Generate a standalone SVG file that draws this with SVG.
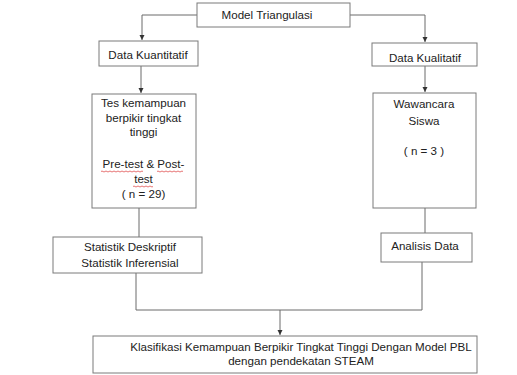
<svg xmlns="http://www.w3.org/2000/svg" width="517" height="375" viewBox="0 0 517 375">
<style>
.box{fill:#fff;stroke:#7a7a7a;stroke-width:1}
.t{font-family:"Liberation Sans",Arial,sans-serif;font-size:11.6px;fill:#222;text-anchor:middle}
.c{fill:none;stroke:#6a6a6a;stroke-width:1}
.sq{fill:none;stroke:#e05050;stroke-width:0.8}
</style>
<defs>
<marker id="ah" markerWidth="6" markerHeight="6" refX="5" refY="3" orient="auto" markerUnits="userSpaceOnUse">
<path d="M0,0.5 L5,3 L0,5.5 Z" fill="#333"/>
</marker>
</defs>
<rect width="517" height="375" fill="#fff"/>
<g id="connectors">
<path class="c" d="M197,15 H142 V40" marker-end="url(#ah)"/>
<path class="c" d="M350,15 H425 V42" marker-end="url(#ah)"/>
<path class="c" d="M141,66 V93" marker-end="url(#ah)"/>
<path class="c" d="M425,66 V92" marker-end="url(#ah)"/>
<path class="c" d="M139,208 V237"/>
<path class="c" d="M425,208 V233"/>
<path class="c" d="M136,273 V310 H422 V262"/>
<path class="c" d="M280,310 V335" marker-end="url(#ah)"/>
</g>
<g id="model">
<rect class="box" x="197" y="3" width="153" height="24"/>
<text class="t" x="267" y="19">Model Triangulasi</text>
</g>
<g id="kuantitatif">
<rect class="box" x="99" y="41" width="99" height="25"/>
<text class="t" x="148" y="59">Data Kuantitatif</text>
</g>
<g id="kualitatif">
<rect class="box" x="372" y="43" width="105" height="23"/>
<text class="t" x="425" y="62">Data Kualitatif</text>
</g>
<g id="tes">
<rect class="box" x="92" y="94" width="104" height="114"/>
<text class="t" x="143.5" y="106.5">Tes kemampuan</text>
<text class="t" x="143.5" y="121.5">berpikir tingkat</text>
<text class="t" x="143.5" y="136">tinggi</text>
<text class="t" x="143.5" y="168">Pre-test &amp; Post-</text>
<text class="t" x="143.5" y="183">test</text>
<text class="t" x="143.5" y="198">( n = 29)</text>
<path class="sq" d="M101,171.5 q1,-1 2,0 t2,0 t2,0 t2,0 t2,0 t2,0 t2,0 t2,0 t2,0 t2,0 t2,0 t2,0 t2,0 t2,0 t2,0 t2,0 t2,0 t2,0 t2,0 t2,0 t2,0"/>
<path class="sq" d="M157,171.5 q1,-1 2,0 t2,0 t2,0 t2,0 t2,0 t2,0 t2,0 t2,0 t2,0 t2,0 t2,0 t2,0 t2,0"/>
<path class="sq" d="M133,186.5 q1,-1 2,0 t2,0 t2,0 t2,0 t2,0 t2,0 t2,0 t2,0 t2,0 t2,0"/>
</g>
<g id="wawancara">
<rect class="box" x="373" y="93" width="103" height="115"/>
<text class="t" x="424" y="108">Wawancara</text>
<text class="t" x="424" y="125">Siswa</text>
<text class="t" x="424" y="155">( n = 3 )</text>
</g>
<g id="statistik">
<rect class="box" x="53" y="237" width="149" height="36"/>
<text class="t" x="130" y="251">Statistik Deskriptif</text>
<text class="t" x="130" y="267">Statistik Inferensial</text>
</g>
<g id="analisis">
<rect class="box" x="381" y="233" width="91" height="29"/>
<text class="t" x="425" y="250">Analisis Data</text>
</g>
<g id="klasifikasi">
<rect class="box" x="93" y="336" width="384" height="37"/>
<text class="t" x="301" y="351">Klasifikasi Kemampuan Berpikir Tingkat Tinggi Dengan Model PBL</text>
<text class="t" x="301" y="365">dengan pendekatan STEAM</text>
</g>
</svg>
